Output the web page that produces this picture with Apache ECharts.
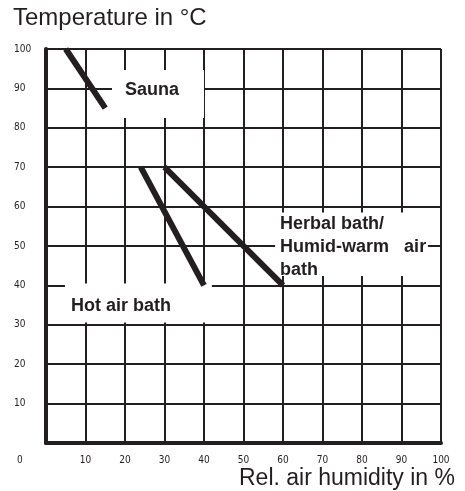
<!DOCTYPE html>
<html>
<head>
<meta charset="utf-8">
<script src="https://cdn.jsdelivr.net/npm/echarts@6/dist/echarts.min.js"></script>
<style>
  html, body { margin: 0; padding: 0; background: #fff; }
  #chart { width: 465px; height: 491px; }
</style>
</head>
<body>
<div id="chart"></div>
<script>
// Bath types: relative air humidity (%) vs. temperature (°C)
const saunaHumidity = [5, 15];
const saunaTemp = [100, 85];
const hotAirHumidity = [24, 40];
const hotAirTemp = [70, 40];
const herbalHumidity = [30, 60];
const herbalTemp = [70, 40];

const xTickLabels = ['0', '10', '20', '30', '40', '50', '60', '70', '80', '90', '100'];
const yTickLabels = ['0', '10', '20', '30', '40', '50', '60', '70', '80', '90', '100'];

const seriesNames = ['Sauna', 'Hot air bath', 'Herbal bath/\nHumid-warm   air\nbath'];

const INK = '#231f20';
const tickFont = '"DejaVu Sans Condensed", "Liberation Sans Narrow", sans-serif';
const textFont = '"Liberation Sans", Arial, sans-serif';

function pairs(xs, ys) {
  return xs.map((x, i) => [x, ys[i]]);
}

function curve(xs, ys) {
  return {
    type: 'line',
    data: pairs(xs, ys),
    showSymbol: false,
    symbol: 'none',
    z: 10,
    lineStyle: { color: INK, width: 6, cap: 'butt' },
    silent: true
  };
}

const labelStyle = {
  color: INK,
  fontFamily: textFont,
  fontWeight: 'bold',
  fontSize: 18
};

const chart = echarts.init(document.getElementById('chart'), null, { renderer: 'canvas' });

chart.setOption({
  animation: false,
  backgroundColor: '#fff',
  title: {
    text: 'Temperature in °C',
    left: 8,
    top: 1,
    textStyle: { color: INK, fontFamily: textFont, fontWeight: 'normal', fontSize: 24 }
  },
  grid: { left: 46, top: 49, right: 24, bottom: 48, containLabel: false },
  xAxis: {
    type: 'value',
    min: 0,
    max: 100,
    interval: 10,
    name: 'Rel. air humidity in %',
    nameLocation: 'end',
    nameGap: 0,
    nameTextStyle: {
      color: INK, fontFamily: textFont, fontSize: 23,
      align: 'right', verticalAlign: 'top', padding: [24, -14, 0, 0]
    },
    axisLine: { show: true, lineStyle: { color: INK, width: 4 } },
    axisTick: { show: false },
    splitLine: { show: true, lineStyle: { color: INK, width: 2 } },
    axisLabel: {
      showMinLabel: false,
      margin: 12,
      color: INK,
      fontFamily: tickFont,
      fontSize: 10,
      formatter: (v) => xTickLabels[Math.round(v / 10)]
    }
  },
  yAxis: {
    type: 'value',
    min: 0,
    max: 100,
    interval: 10,
    axisLine: { show: true, lineStyle: { color: INK, width: 4 } },
    axisTick: { show: false },
    splitLine: { show: true, lineStyle: { color: INK, width: 2 } },
    axisLabel: {
      showMinLabel: false,
      align: 'left',
      margin: 32,
      color: INK,
      fontFamily: tickFont,
      fontSize: 10,
      formatter: (v) => yTickLabels[Math.round(v / 10)]
    }
  },
  graphic: [{
    type: 'text',
    left: 17,
    top: 455,
    style: { text: yTickLabels[0], fill: INK, font: '10px ' + tickFont }
  }],
  series: [
    {
      type: 'line',
      data: [],
      z: 5,
      silent: true,
      markArea: {
        silent: true,
        itemStyle: { color: '#ffffff', opacity: 1 },
        data: [
          [
            { coord: [16.7, 94.7], name: seriesNames[0],
              label: Object.assign({ position: 'inside', offset: [-6, -4] }, labelStyle) },
            { coord: [40, 82.5] }
          ],
          [
            { coord: [4.8, 40.5], name: seriesNames[1],
              label: Object.assign({ position: 'insideLeft', distance: 6, offset: [0, 3] }, labelStyle) },
            { coord: [42, 30.6] }
          ],
          [
            { coord: [58, 58.5], name: seriesNames[2],
              label: Object.assign({ position: 'insideTopLeft', distance: 5, lineHeight: 23, offset: [0, -5] }, labelStyle) },
            { coord: [96.7, 42.4] }
          ]
        ]
      }
    },
    curve(saunaHumidity, saunaTemp),
    curve(hotAirHumidity, hotAirTemp),
    curve(herbalHumidity, herbalTemp)
  ]
});
</script>
</body>
</html>
